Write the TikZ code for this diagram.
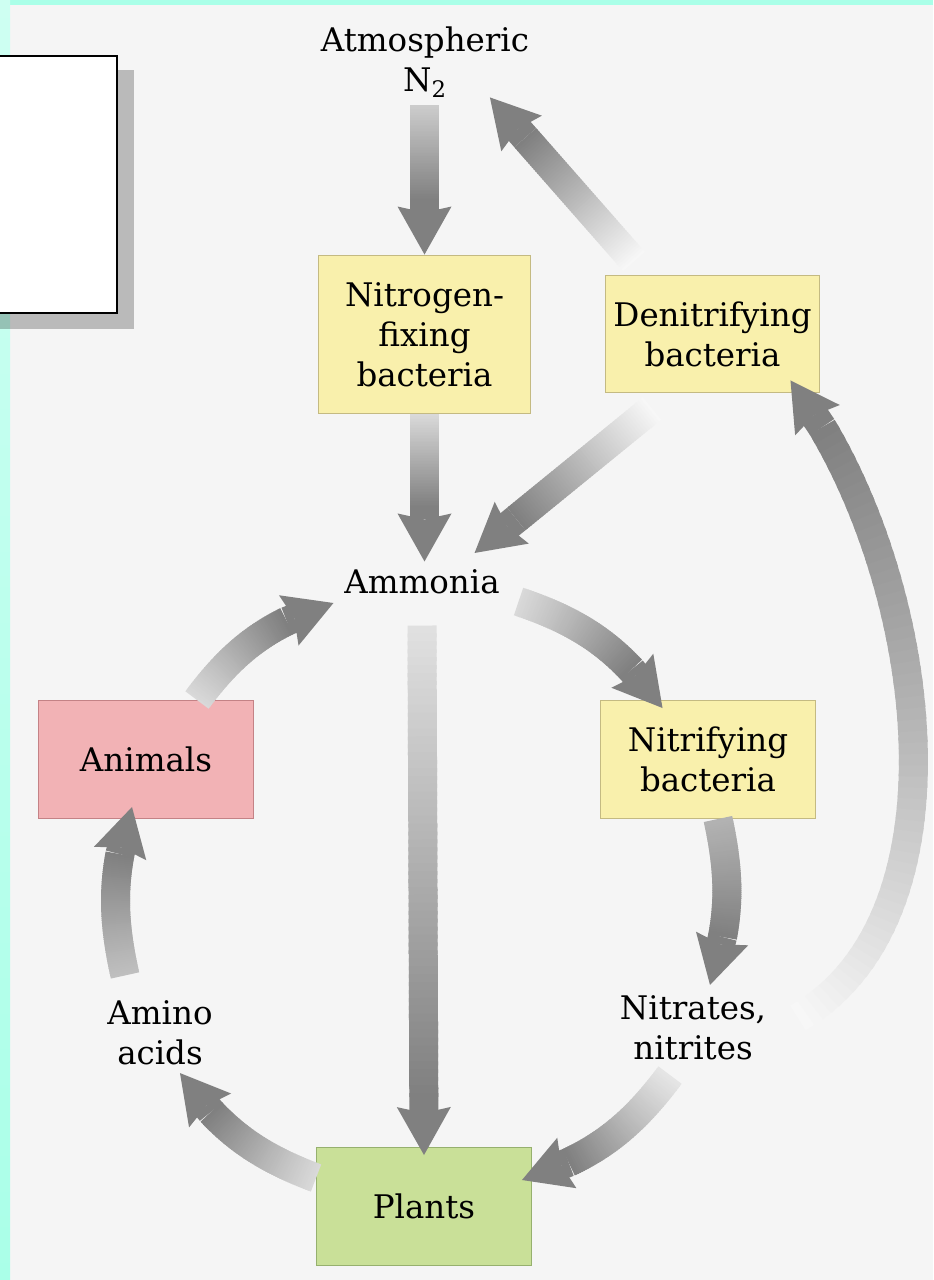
\documentclass[tikz,border=0pt]{standalone}
\usepackage{fontspec}
\setmainfont{DejaVu Serif}
\usetikzlibrary{arrows.meta}

\definecolor{fundo}{RGB}{245,245,245}
\definecolor{ciano}{RGB}{170,255,232}
\definecolor{cianoclaro}{RGB}{206,255,242}
\definecolor{amarelo}{RGB}{249,240,172}
\definecolor{amareloborda}{RGB}{196,186,130}
\definecolor{rosa}{RGB}{242,178,181}
\definecolor{rosaborda}{RGB}{196,130,134}
\definecolor{verde}{RGB}{201,224,152}
\definecolor{verdeborda}{RGB}{150,176,110}

% seta larga com gradiente: #1 tom inicial, #2 origem, #3 destino, #4 forma, #5 inicio da ponta
\newcommand{\fluxo}[5][15]{%
	\foreach \k in {0,...,59}{%
		\pgfmathsetmacro{\pa}{#5*\k/60}%
		\pgfmathsetmacro{\pb}{min(#5*(\k+1.5)/60,#5)}%
		\pgfmathsetmacro{\tom}{#1+(50-#1)*\k/59}%
		\path #2 to[#4] coordinate[pos=\pa] (fa) coordinate[pos=\pb] (fb) #3;%
		\draw[haste, black!\tom] (fa) -- (fb);%
	}%
	\path #2 to[#4] coordinate[pos=#5] (fc) #3;%
	\draw[haste, black!50, -{Stealth[length=0.96cm, width=1.08cm, inset=0.12cm, line width=0pt]}] (fc) -- #3;%
}

\begin{document}
\begin{tikzpicture}[x=0.02cm, y=-0.02cm, %escala em pixels
	texto/.style={inner sep=0.15cm, align=center, font=\fontsize{18.5}{22.8}\selectfont},
	caixa/.style={texto, draw=amareloborda, fill=amarelo, line width=0.02cm, minimum width=4.3cm, minimum height=2.36cm, inner sep=0pt},
	haste/.style={line width=0.58cm}]
					%Fundo
				\useasboundingbox (0,0) rectangle (933,1280);
				\clip (0,0) rectangle (933,1280);
				\fill[fundo] (0,0) rectangle (933,1280);
				\fill[ciano] (0,0) rectangle (933,5);
				\shade[top color=cianoclaro, bottom color=ciano] (0,0) rectangle (10,1280);
				
					%Quadro branco com sombra
				\fill[black, opacity=0.24] (0,70) rectangle (134,329);
				\draw[line width=0.03cm, fill=white] (-5,56) rectangle (117,313);
				
					%Etapas do ciclo
				\node[texto] (atm) at (425,62) {Atmospheric\\N\textsubscript{2}};
				\node[caixa, minimum width=4.26cm, minimum height=3.18cm] (nfix) at (424.5,334.5) {Nitrogen-\\fixing\\bacteria};
				\node[caixa] (denit) at (712.5,334) {Denitrifying\\bacteria};
				\node[texto] (amonia) at (422,581.5) {Ammonia};
				\node[caixa] (nitrif) at (708,759.5) {Nitrifying\\bacteria};
				\node[texto] (nitratos) at (693,1027.5) {Nitrates,\\nitrites};
				\node[caixa, fill=verde, draw=verdeborda] (plantas) at (424,1206.5) {Plants};
				\node[texto] (amino) at (160,1033) {Amino\\acids};
				\node[caixa, fill=rosa, draw=rosaborda] (animais) at (146,759.5) {Animals};
				
					%Setas
				\fluxo[20]{(nfix.north |- atm.south)}{(nfix.north)}{}{0.64}
				\fluxo{(nfix.south)}{(nfix.south |- amonia.north)}{}{0.634}
				\fluxo[3]{([xshift=-1.57cm,yshift=0.26cm]denit.north)}{([xshift=-0.94cm,yshift=0.16cm]atm.south east)}{}{0.755}
				\fluxo[3]{([xshift=-1.21cm,yshift=-0.3cm]denit.south)}{([xshift=-0.66cm,yshift=0.17cm]amonia.north east)}{}{0.765}
				\fluxo[12]{([yshift=-0.48cm]amonia.south)}{([yshift=-0.16cm]plantas.north)}{}{0.898}
				\fluxo{([xshift=0.22cm]amonia.south east)}{([xshift=-0.91cm,yshift=-0.16cm]nitrif.north)}{bend left=18}{0.744}
				\fluxo[30]{([xshift=0.2cm]nitrif.south)}{([xshift=0.34cm,yshift=0.05cm]nitratos.north)}{bend left=15}{0.72}
				\fluxo[10]{([xshift=-0.46cm,yshift=-0.15cm]nitratos.south)}{([xshift=-0.2cm,yshift=0.53cm]plantas.east)}{bend left=18}{0.745}
				\fluxo{([yshift=0.57cm]plantas.west)}{([xshift=0.4cm]amino.south)}{bend left=17}{0.73}
				\fluxo[25]{([xshift=-0.7cm,yshift=0.35cm]amino.north)}{([xshift=-0.28cm,yshift=0.24cm]animais.south)}{bend left=15}{0.73}
				\fluxo{([xshift=1.02cm]animais.north)}{([xshift=-0.06cm,yshift=-0.43cm]amonia.west)}{bend left=18}{0.72}
				\fluxo[3]{([xshift=0.48cm,yshift=0.19cm]nitratos.east)}{([xshift=-0.6cm,yshift=0.26cm]denit.south east)}{out=30, in=-52, looseness=0.85}{0.915}
\end{tikzpicture}
\end{document}
